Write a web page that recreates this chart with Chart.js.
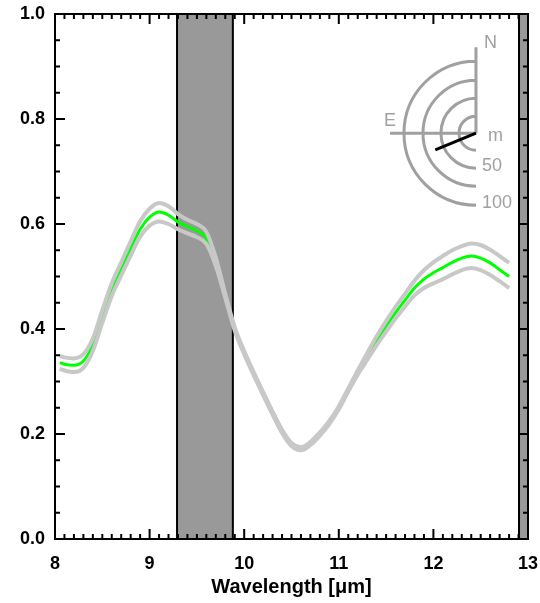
<!DOCTYPE html>
<html>
<head>
<meta charset="utf-8">
<script src="https://cdn.jsdelivr.net/npm/chart.js@4"></script>
<style>
  html, body { margin: 0; padding: 0; background: #fff; }
  #wrap { width: 540px; height: 603px; }
</style>
</head>
<body>
<div id="wrap"><canvas id="chart"></canvas></div>
<script>
// wavelength grid (micron)
const wavelength = [8.05, 8.1, 8.2, 8.3, 8.4, 8.5, 8.6, 8.7, 8.8, 8.9,
    9.0, 9.1, 9.2, 9.3, 9.4, 9.5, 9.6, 9.7, 9.8, 9.9,
    10.0, 10.1, 10.2, 10.3, 10.4, 10.5, 10.6, 10.7, 10.8, 10.9,
    11.0, 11.1, 11.2, 11.3, 11.4, 11.5, 11.6, 11.7, 11.8, 11.9,
    12.0, 12.1, 12.2, 12.3, 12.4, 12.5, 12.6, 12.7, 12.8];

// mean spectrum (green)
const meanSpec = [0.336, 0.333, 0.331, 0.339, 0.370, 0.424, 0.475, 0.514, 0.553, 0.590,
    0.613, 0.623, 0.617, 0.604, 0.595, 0.587, 0.573, 0.528, 0.463, 0.400,
    0.355, 0.315, 0.277, 0.240, 0.205, 0.180, 0.172, 0.182, 0.200, 0.222,
    0.250, 0.284, 0.317, 0.347, 0.377, 0.405, 0.431, 0.455, 0.478, 0.495,
    0.507, 0.517, 0.527, 0.535, 0.539, 0.535, 0.526, 0.513, 0.500];

// upper / lower envelope (grey)
const upperSpec = [0.349, 0.346, 0.344, 0.352, 0.382, 0.436, 0.487, 0.527, 0.567, 0.605,
    0.629, 0.640, 0.634, 0.619, 0.608, 0.600, 0.585, 0.536, 0.467, 0.403,
    0.358, 0.318, 0.280, 0.243, 0.208, 0.183, 0.175, 0.185, 0.203, 0.225,
    0.253, 0.287, 0.321, 0.354, 0.386, 0.415, 0.442, 0.467, 0.492, 0.512,
    0.527, 0.539, 0.550, 0.558, 0.563, 0.560, 0.551, 0.539, 0.526];

const lowerSpec = [0.324, 0.321, 0.318, 0.326, 0.358, 0.412, 0.463, 0.502, 0.540, 0.576,
    0.597, 0.605, 0.600, 0.590, 0.582, 0.575, 0.562, 0.520, 0.459, 0.397,
    0.352, 0.312, 0.274, 0.237, 0.202, 0.177, 0.169, 0.179, 0.197, 0.219,
    0.247, 0.281, 0.313, 0.341, 0.369, 0.395, 0.420, 0.443, 0.464, 0.478,
    0.487, 0.495, 0.504, 0.512, 0.516, 0.512, 0.503, 0.491, 0.478];

// masked wavelength ranges
const bandStart = [9.29, 12.905];
const bandEnd = [9.88, 13.0];

const xTicks = [8, 9, 10, 11, 12, 13];
const yTicks = [0.0, 0.2, 0.4, 0.6, 0.8, 1.0];

// compass inset: ring labels and pointer
const ringLabels = ['m', '50', '100'];
const compassCenter = [12.45, 0.773];
const pointerEnd = [12.02, 0.741];

const FONT = "'Liberation Sans', Arial, sans-serif";

function pts(ys) {
    return wavelength.map((x, i) => ({ x: x, y: ys[i] }));
}

const bandPlugin = {
    id: 'bands',
    beforeDatasetsDraw(chart) {
        const ctx = chart.ctx;
        const xs = chart.scales.x;
        const area = chart.chartArea;
        ctx.save();
        for (let i = 0; i < bandStart.length; i++) {
            const x0 = xs.getPixelForValue(bandStart[i]);
            const x1 = xs.getPixelForValue(bandEnd[i]);
            ctx.fillStyle = '#999999';
            ctx.fillRect(x0, area.top, x1 - x0, area.bottom - area.top);
            ctx.strokeStyle = '#000';
            ctx.lineWidth = 2;
            ctx.beginPath();
            ctx.moveTo(x0, area.top); ctx.lineTo(x0, area.bottom);
            ctx.moveTo(x1, area.top); ctx.lineTo(x1, area.bottom);
            ctx.stroke();
        }
        ctx.restore();
    }
};

const framePlugin = {
    id: 'frame',
    afterDraw(chart) {
        const ctx = chart.ctx;
        const xs = chart.scales.x, ys = chart.scales.y;
        const a = chart.chartArea;
        ctx.save();
        ctx.strokeStyle = '#000';
        ctx.lineWidth = 2;
        ctx.strokeRect(a.left, a.top, a.right - a.left, a.bottom - a.top);
        ctx.beginPath();
        for (let k = 80; k <= 130; k++) {
            const px = xs.getPixelForValue(k / 10);
            const len = k % 10 === 0 ? 10 : 5;
            ctx.moveTo(px, a.bottom); ctx.lineTo(px, a.bottom - len);
            ctx.moveTo(px, a.top); ctx.lineTo(px, a.top + len);
        }
        for (let k = 0; k <= 20; k++) {
            const py = ys.getPixelForValue(k / 20);
            const len = k % 4 === 0 ? 10 : 5;
            ctx.moveTo(a.left, py); ctx.lineTo(a.left + len, py);
            ctx.moveTo(a.right, py); ctx.lineTo(a.right - len, py);
        }
        ctx.stroke();

        // compass inset
        const cx = xs.getPixelForValue(compassCenter[0]);
        const cy = ys.getPixelForValue(compassCenter[1]);
        const radii = [17, 35, 53, 72];
        ctx.strokeStyle = '#a0a0a0';
        ctx.lineWidth = 3;
        ctx.beginPath();
        radii.forEach(r => {
            ctx.moveTo(cx, cy - r);
            ctx.arc(cx, cy, r, -Math.PI / 2, Math.PI / 2, true);
        });
        ctx.moveTo(cx, cy); ctx.lineTo(cx, cy - 86);
        ctx.moveTo(cx, cy); ctx.lineTo(cx - 86, cy);
        ctx.stroke();
        ctx.strokeStyle = '#000';
        ctx.lineWidth = 3;
        ctx.beginPath();
        ctx.moveTo(cx, cy);
        ctx.lineTo(xs.getPixelForValue(pointerEnd[0]), ys.getPixelForValue(pointerEnd[1]));
        ctx.stroke();

        ctx.fillStyle = '#a0a0a0';
        ctx.font = '18px ' + FONT;
        ctx.textBaseline = 'middle';
        ctx.textAlign = 'left';
        ctx.fillText('N', cx + 8, cy - 90);
        ctx.fillText('E', cx - 92, cy - 12);
        ctx.fillText(ringLabels[0], cx + 12, cy + 3);
        ctx.fillText(ringLabels[1], cx + 6, cy + 33);
        ctx.fillText(ringLabels[2], cx + 6, cy + 70);
        ctx.restore();
    }
};

new Chart(document.getElementById('chart'), {
    type: 'line',
    data: {
        datasets: [
            { data: pts(upperSpec), borderColor: '#c8c8c8', borderWidth: 4 },
            { data: pts(lowerSpec), borderColor: '#c8c8c8', borderWidth: 4 },
            { data: pts(meanSpec), borderColor: '#00ff00', borderWidth: 3 }
        ]
    },
    options: {
        responsive: true,
        maintainAspectRatio: false,
        animation: false,
        layout: { padding: { top: 14, right: 12, left: 0, bottom: 0 } },
        elements: {
            point: { radius: 0 },
            line: { tension: 0.4, cubicInterpolationMode: 'monotone', fill: false }
        },
        plugins: { legend: { display: false }, tooltip: { enabled: false } },
        scales: {
            x: {
                type: 'linear', min: 8, max: 13,
                afterBuildTicks: s => { s.ticks = xTicks.map(v => ({ value: v })); },
                afterFit: s => { s.height = 64; s.paddingLeft = 0; s.paddingRight = 0; },
                grid: { display: false, drawTicks: false },
                border: { display: false },
                ticks: {
                    color: '#000', padding: 14, maxRotation: 0,
                    font: { family: FONT, size: 18, weight: 'bold' },
                    callback: v => String(v)
                },
                title: {
                    display: true, text: 'Wavelength [\u03bcm]', color: '#000',
                    font: { family: FONT, size: 20, weight: 'bold' },
                    padding: { top: 0, bottom: 4 }
                }
            },
            y: {
                type: 'linear', min: 0, max: 1,
                afterBuildTicks: s => { s.ticks = yTicks.map(v => ({ value: v })); },
                afterFit: s => { s.width = 55; s.paddingTop = 0; s.paddingBottom = 0; },
                grid: { display: false, drawTicks: false },
                border: { display: false },
                ticks: {
                    color: '#000', padding: 10,
                    font: { family: FONT, size: 18, weight: 'bold' },
                    callback: v => Number(v).toFixed(1)
                }
            }
        }
    },
    plugins: [bandPlugin, framePlugin]
});
</script>
</body>
</html>
